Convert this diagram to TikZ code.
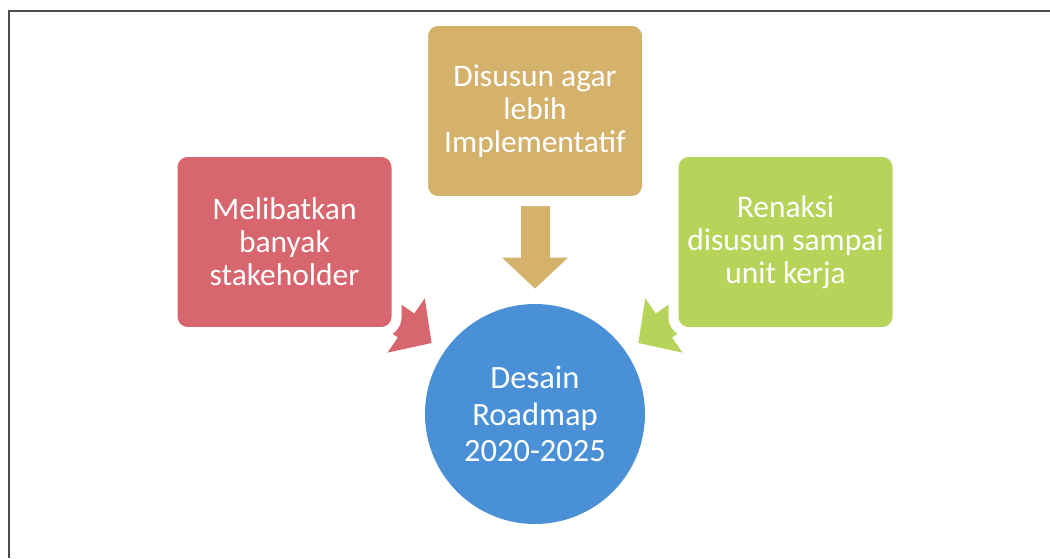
\documentclass[tikz,border=0pt]{standalone}
\usepackage{fontspec}
\setmainfont{Carlito}
\usetikzlibrary{arrows.meta, backgrounds}

\definecolor{boxred}{RGB}{216,102,110}
\definecolor{boxgold}{RGB}{212,178,108}
\definecolor{boxgreen}{RGB}{182,211,90}
\definecolor{coreblue}{RGB}{74,144,214}

\begin{document}
\begin{tikzpicture}[
  box/.style={rectangle, rounded corners=3mm, draw=white, line width=2mm,
    minimum width=4.48cm, minimum height=3.6cm, inner sep=0pt,
    align=center, text=white, font=\fontsize{17.9}{18.8}\selectfont},
  core/.style={circle, fill=coreblue, minimum size=4.4cm, inner sep=0pt,
    align=center, text=white, font=\fontsize{18.5}{21}\selectfont},
  flow/.style={line width=5.8mm, -{Triangle[width=12.8mm, length=6.2mm]},
    shorten >=3mm},
]
  \useasboundingbox (0, 0) rectangle (21, 11.16);
  \draw[line width=0.4mm, black!70] (0.18, 0) |- (21, 10.94);

  \node[core] (roadmap) at (10.7, 2.88) {Desain\\Roadmap\\2020-2025};
  \node[box, fill=boxgold] (implement) at (10.7, 8.94) {Disusun agar\\lebih\\Implementatif};
  \node[box, fill=boxred] (stake) at (5.69, 6.32) {Melibatkan\\banyak\\stakeholder};
  \node[box, fill=boxgreen] (unit) at (15.71, 6.32) {Renaksi\\disusun sampai\\unit kerja};

  % block arrows behind the boxes
  \begin{pgfonlayer}{background}
    \draw[flow, boxred] (stake.center) -- (roadmap);
    \draw[flow, boxgold] (implement.center) -- (roadmap);
    \draw[flow, boxgreen] (unit.center) -- (roadmap);
  \end{pgfonlayer}
\end{tikzpicture}
\end{document}
